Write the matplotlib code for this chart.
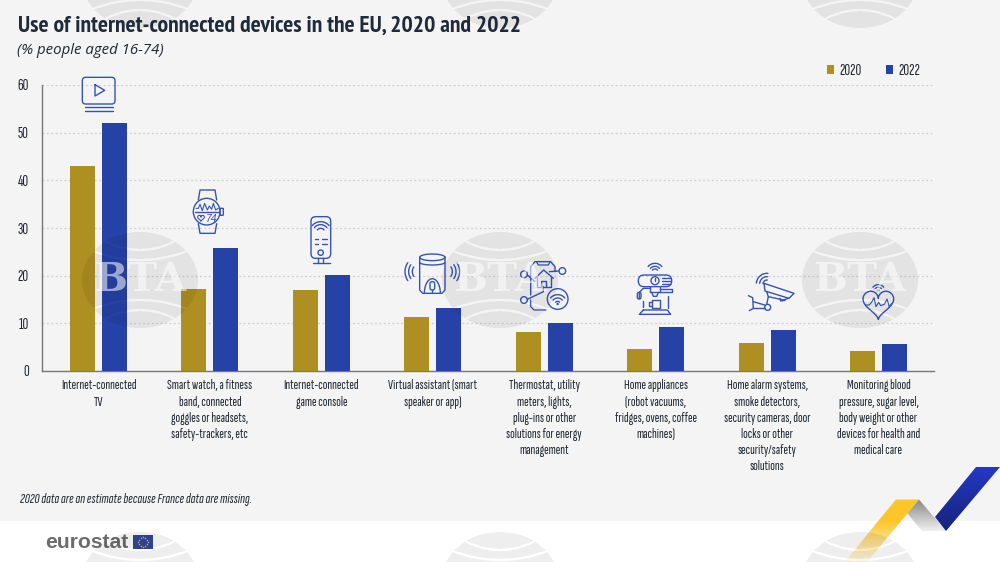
import logging
import numpy as np
import matplotlib
matplotlib.use("Agg")
import matplotlib.pyplot as plt
from matplotlib.patches import Rectangle, Circle, FancyBboxPatch, Polygon
logging.getLogger("matplotlib.font_manager").setLevel(logging.ERROR)

categories = [
    "Internet-connected\nTV",
    "Smart watch, a fitness\nband, connected\ngoggles or headsets,\nsafety-trackers, etc",
    "Internet-connected\ngame console",
    "Virtual assistant (smart\nspeaker or app)",
    "Thermostat, utility\nmeters, lights,\nplug-ins or other\nsolutions for energy\nmanagement",
    "Home appliances\n(robot vacuums,\nfridges, ovens, coffee\nmachines)",
    "Home alarm systems,\nsmoke detectors,\nsecurity cameras, door\nlocks or other\nsecurity/safety\nsolutions",
    "Monitoring blood\npressure, sugar level,\nbody weight or other\ndevices for health and\nmedical care",
]
values_2020 = [43.0, 17.2, 17.0, 11.3, 8.2, 4.7, 5.9, 4.3]
values_2022 = [52.0, 25.8, 20.2, 13.2, 10.1, 9.2, 8.6, 5.6]
y_ticks = [0, 10, 20, 30, 40, 50, 60]

TITLEF = ["PT Sans Narrow", "Liberation Sans"]
NARROW = ["Sofia Sans Extra Condensed", "PT Sans Narrow", "Liberation Sans"]
GOLD, BLUE = "#ae8f22", "#2642a6"
BG = "#f4f4f4"
INK = "#20262f"
ICON = "#3553b4"
W, H = 1000, 562

fig = plt.figure(figsize=(10, 5.62), dpi=100, facecolor="white")

bgax = fig.add_axes([0, 0, 1, 1], zorder=0)
bgax.set_xlim(0, W); bgax.set_ylim(H, 0); bgax.axis("off")
bgax.add_patch(Rectangle((0, 0), W, 520.5, fc=BG, ec="none"))

ax = fig.add_axes([42 / W, (H - 371) / H, (934 - 42) / W, (371 - 85) / H], zorder=1)
ax.patch.set_alpha(0)
x = np.arange(len(categories))
pitch = (878.5 - 98.5) / 7
bw = 25 / pitch
off = 16 / pitch
b1 = ax.bar(x - off, values_2020, bw, color=GOLD, label="2020", zorder=3)
b2 = ax.bar(x + off, values_2022, bw, color=BLUE, label="2022", zorder=3)
ax.set_xlim((42 - 98.5) / pitch, (934 - 98.5) / pitch)
ax.set_ylim(0, 60)
ax.set_yticks(y_ticks)
ax.set_xticks(x)
ax.set_xticklabels(categories, family=NARROW, fontsize=10, color=INK, linespacing=1.32, va="top")
ax.tick_params(axis="x", length=0, pad=6)
ax.tick_params(axis="y", length=0, pad=9.5)
for t in ax.get_yticklabels():
    t.set_family(NARROW); t.set_fontsize(11.5); t.set_color(INK)
ax.yaxis.grid(True, color="#cfcfcf", lw=0.9, ls=(0, (1.5, 2)), zorder=0)
ax.set_axisbelow(True)
for s in ("top", "right"):
    ax.spines[s].set_visible(False)
for s in ("left", "bottom"):
    ax.spines[s].set_color("#777777"); ax.spines[s].set_linewidth(1.0)

ax.legend(handles=[b1, b2], ncol=2, frameon=False, loc="center right",
          bbox_to_anchor=(0.985, 1.048), handlelength=0.46, handleheight=0.46,
          handletextpad=0.33, columnspacing=1.53, borderpad=0, borderaxespad=0,
          labelcolor=INK, prop={"family": NARROW, "size": 11.5})

ov = fig.add_axes([0, 0, 1, 1], zorder=2)
ov.set_xlim(0, W); ov.set_ylim(H, 0); ov.axis("off"); ov.patch.set_alpha(0)

fig.text(18 / W, 1 - 26 / H, "Use of internet-connected devices in the EU, 2020 and 2022",
         family=TITLEF, weight="bold", fontsize=17, color="#1f2a3a", va="center", ha="left")
fig.text(17 / W, 1 - 50 / H, "(% people aged 16-74)", family="Open Sans", style="italic",
         fontsize=10.8, color=INK, va="center", ha="left")
fig.text(20 / W, 1 - 499.5 / H, "2020 data are an estimate because France data are missing.",
         family=NARROW, style="italic", fontsize=10.4, color=INK, va="center", ha="left")

LW = 1.0
def P(ox, oy, pts):
    a = np.asarray(pts, float) / 3
    return a[:, 0] + ox, a[:, 1] + oy
def line(ox, oy, pts, lw=LW):
    xs, ys = P(ox, oy, pts)
    ov.plot(xs, ys, color=ICON, lw=lw, solid_capstyle="round", solid_joinstyle="round")
def circ(ox, oy, c, r, lw=LW):
    ov.add_patch(Circle((ox + c[0] / 3, oy + c[1] / 3), r / 3, fc="none", ec=ICON, lw=lw))
def rrect(ox, oy, x0, y0, x1, y1, rad, lw=LW):
    ov.add_patch(FancyBboxPatch((ox + (x0 + rad) / 3, oy + (y0 + rad) / 3),
                                (x1 - x0 - 2 * rad) / 3, (y1 - y0 - 2 * rad) / 3,
                                boxstyle=f"round,pad={rad / 3},rounding_size={rad / 3}",
                                fc="none", ec=ICON, lw=lw))
def arc(ox, oy, c, r, mid=90, span=90, ry=None, lw=LW):
    t = np.radians(np.linspace(mid - span / 2, mid + span / 2, 30))
    ry = r if ry is None else ry
    ov.plot(ox + (c[0] + r * np.cos(t)) / 3, oy + (c[1] - ry * np.sin(t)) / 3,
            color=ICON, lw=lw, solid_capstyle="round")
def heart(ox, oy, c, w, h, lw=LW):
    t = np.linspace(0, 2 * np.pi, 120)
    hx = 16 * np.sin(t) ** 3
    hy = 13 * np.cos(t) - 5 * np.cos(2 * t) - 2 * np.cos(3 * t) - np.cos(4 * t)
    ov.plot(ox + (c[0] + hx / 32 * w) / 3, oy + (c[1] - (hy + 2.5) / 29 * h) / 3,
            color=ICON, lw=lw)

# TV
rrect(0, 0, 247, 232, 345, 312, 10)
line(0, 0, [(285, 254), (285, 288), (314, 271), (285, 254)])
line(0, 0, [(255, 322), (338, 322)]); line(0, 0, [(255, 334), (338, 334)])

# Watch
o = (160, 180)
circ(*o, (140, 95), 40)
rrect(*o, 180, 85, 190, 106, 2)
line(*o, [(115, 60), (120, 30), (165, 30), (170, 60)])
line(*o, [(115, 131), (120, 160), (165, 160), (170, 131)])
line(*o, [(105, 97), (176, 97)])
line(*o, [(108, 85), (115, 85), (120, 73), (127, 92), (134, 70), (142, 90), (148, 78), (155, 88), (160, 70), (167, 90), (175, 85)], lw=0.8)
heart(*o, (123, 115), 20, 18, lw=0.8)
ov.text(160 + 155 / 3, 180 + 116 / 3, "74", color=ICON, fontsize=7.5, family="Liberation Sans",
        ha="center", va="center", style="italic")

# Game console
rrect(*o, 453, 110, 512, 235, 14)
for r in (13, 24, 33):
    arc(*o, (482, 158), r, span=100)
line(*o, [(464, 178), (475, 178)]); line(*o, [(485, 178), (500, 178)])
line(*o, [(464, 192), (475, 192)]); line(*o, [(485, 192), (500, 192)])
circ(*o, (482, 218), 8)
line(*o, [(475, 235), (475, 248)]); line(*o, [(490, 235), (490, 248)])
line(*o, [(458, 249), (510, 249)])

# Speaker
o = (400, 240)
arc(*o, (97, 52), 38, mid=180, span=360, ry=10)
line(*o, [(59, 52), (59, 150), (68, 160), (126, 160), (135, 150), (135, 52)])
arc(*o, (97, 67), 38, mid=270, span=180, ry=8)
arc(*o, (97, 160), 24, mid=90, span=180, ry=44)
rrect(*o, 90, 125, 104, 150, 6)
line(*o, [(97, 150), (97, 160)])
for r in (25, 36, 47):
    arc(*o, (62, 95), r, mid=180, span=70)
    arc(*o, (132, 95), r, mid=0, span=70)

# Thermostat
line(*o, [(392, 165), (392, 80), (405, 65), (452, 65), (465, 80), (465, 95)])
line(*o, [(392, 180), (392, 200), (402, 210), (438, 210)], lw=0.9)
line(*o, [(410, 66), (415, 75), (445, 75), (450, 66)], lw=0.9)
line(*o, [(405, 115), (431, 90), (460, 115)])
line(*o, [(411, 110), (411, 140), (452, 140), (452, 110)])
line(*o, [(424, 140), (424, 122), (438, 122), (438, 140)])
circ(*o, (372, 103), 10); circ(*o, (487, 93), 10); circ(*o, (372, 180), 10)
line(*o, [(382, 105), (405, 125)]); line(*o, [(477, 93), (448, 95)])
line(*o, [(382, 178), (430, 155), (430, 140)])
circ(*o, (473, 177), 31)
for r in (8, 18, 28):
    arc(*o, (473, 192), r, span=100)
circ(*o, (473, 192), 1.5)

# Coffee machine
o = (620, 255)
rrect(*o, 55, 60, 155, 95, 17)
circ(*o, (105, 77), 12)
line(*o, [(105, 70), (105, 77)])
line(*o, [(127, 68), (150, 68)]); line(*o, [(127, 78), (152, 78)]); line(*o, [(127, 88), (150, 88)])
for r in (10, 18, 27):
    arc(*o, (105, 52), r, span=100)
line(*o, [(90, 95), (90, 112), (120, 112), (120, 95)])
line(*o, [(120, 102), (157, 102), (157, 110), (120, 110)])
line(*o, [(90, 100), (70, 100), (58, 112), (58, 130)])
rrect(*o, 52, 112, 63, 132, 5)
line(*o, [(95, 112), (100, 124), (110, 124), (115, 112)])
line(*o, [(95, 134), (120, 134), (120, 158), (95, 158), (95, 134)])
line(*o, [(95, 142), (86, 142), (86, 152), (95, 152)])
line(*o, [(68, 138), (68, 155)]); line(*o, [(145, 122), (145, 160)])
line(*o, [(70, 165), (142, 165), (152, 178), (58, 178), (70, 165)])

# Camera
line(*o, [(432, 85), (522, 115), (507, 130), (435, 108), (432, 85)])
line(*o, [(440, 110), (445, 125), (490, 135), (505, 130)])
line(*o, [(480, 130), (482, 138), (495, 136)])
line(*o, [(445, 125), (440, 148)])
circ(*o, (443, 157), 9)
line(*o, [(400, 140), (434, 150)]); line(*o, [(400, 160), (434, 160)])
line(*o, [(385, 122), (398, 128), (400, 160), (388, 167)])
for r in (12, 22, 32):
    arc(*o, (441, 87), r, mid=130, span=90)

# Heart monitor
o = (790, 225)
heart(*o, (265, 241), 92, 85)
line(*o, [(226, 240), (238, 240), (246, 230), (252, 218), (258, 245), (266, 232), (272, 242), (283, 238), (291, 222), (298, 246), (304, 236), (306, 236)], lw=0.8)
for r in (5, 13, 21):
    arc(*o, (265, 200), r, span=100)

def gradient(poly, top, bottom, y0, y1, a0=1.0, a1=1.0):
    n = 64
    c0, c1 = np.array(matplotlib.colors.to_rgb(top)), np.array(matplotlib.colors.to_rgb(bottom))
    f = np.linspace(0, 1, n)[:, None]
    img = np.ones((n, 1, 4))
    img[:, :, :3] = (c0 * (1 - f) + c1 * f)[:, None, :]
    img[:, :, 3] = (a0 * (1 - f) + a1 * f)
    xs = [p[0] for p in poly]
    im = ov.imshow(img, extent=(min(xs), max(xs), y1, y0), origin="upper", aspect="auto", zorder=4, interpolation="bilinear")
    clip = Polygon(poly, closed=True, transform=ov.transData, fc="none", ec="none")
    ov.add_patch(clip)
    im.set_clip_path(clip)

gradient([(907, 513), (919, 499.5), (946, 531), (922, 531)], "#868686", "#f0f0f0", 499.5, 531)
gradient([(879, 520), (902, 520), (867, 562), (845, 562)], "#fdc52a", "#fdc52a", 520, 562, 1.0, 0.1)
ov.add_patch(Polygon([(896, 499.5), (919, 499.5), (902, 520), (879, 520)], fc="#fdc52a", ec="none", zorder=4))
gradient([(976, 467), (1000, 467), (946, 531), (935, 517)], "#2439c4", "#16237a", 467, 531)

ov.text(45, 542, "eurostat", family="Liberation Sans", weight="bold", fontsize=15.2,
        color="#6c6c6c", ha="left", va="center", zorder=5)
ov.add_patch(Rectangle((133, 535), 20, 14, fc="#33479c", ec="none", zorder=5))
ang = np.linspace(0, 2 * np.pi, 12, endpoint=False)
ov.scatter(143 + 4.6 * np.cos(ang), 542 + 4.6 * np.sin(ang), s=1.2, color="#d9b84a", lw=0, zorder=6)

# watermark layer
ss = 2
yy, xx = np.mgrid[0:H * ss, 0:W * ss]
xx = (xx + 0.5) / ss; yy = (yy + 0.5) / ss
mask = np.zeros(xx.shape)
for cx in (140, 500, 860):
    for cy in (-20, 280, 580):
        dx, dy = xx - cx, yy - cy
        inside = (dx / 58) ** 2 + (dy / 48) ** 2 <= 1
        ady = np.abs(dy)
        a1 = -ady - (-30 - 10 * (dx / 37) ** 2)
        a2 = -ady - (-20 - 10 * (dx / 50) ** 2)
        holes = (np.abs(a1) < 1.2) | (np.abs(a2) < 1.2)
        mask[inside & ~holes] = 1
mask = mask.reshape(H, ss, W, ss).mean(axis=(1, 3))
wm = np.zeros((H, W, 4))
wm[:, :, 3] = mask * 0.07
ov.imshow(wm, extent=(0, W, H, 0), aspect="auto", zorder=8, interpolation="nearest")
for cx in (140, 500, 860):
    ov.text(cx, 280, "BTA", family="DejaVu Serif", weight="bold", fontsize=29,
            color="white", alpha=0.55, ha="center", va="center", zorder=9)
ov.set_xlim(0, W); ov.set_ylim(H, 0)

fig.savefig("out.png", dpi=100, facecolor="white")
